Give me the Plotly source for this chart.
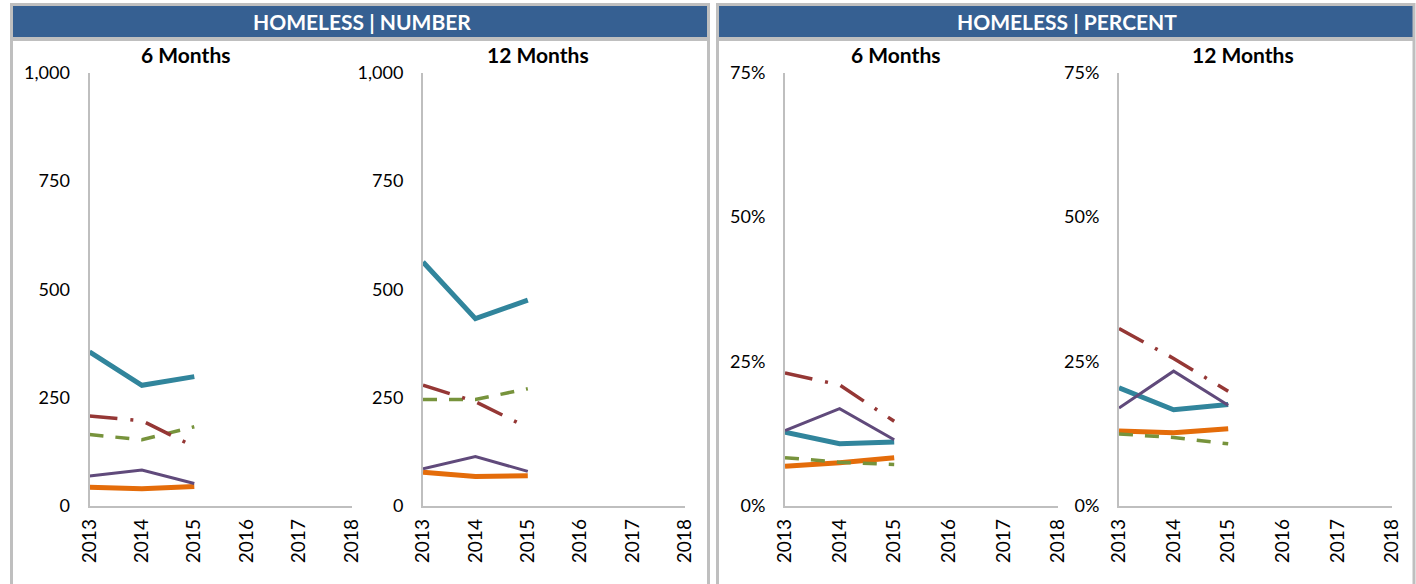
import plotly.graph_objects as go

W, H = 1416, 584

years = [2013, 2014, 2015]
all_years = [2013, 2014, 2015, 2016, 2017, 2018]

# Homeless | Number
num6_teal = [355, 278, 298]
num6_red = [207, 196, 136]
num6_green = [164, 152, 182]
num6_purple = [68, 82, 51]
num6_orange = [42, 39, 44]

num12_teal = [563, 432, 475]
num12_red = [278, 240, 180]
num12_green = [245, 245, 270]
num12_purple = [85, 113, 79]
num12_orange = [77, 67, 69]

# Homeless | Percent (in %)
pct6_teal = [12.7, 10.7, 11.0]
pct6_red = [23.0, 20.9, 14.6]
pct6_green = [8.3, 7.5, 7.1]
pct6_purple = [13.0, 16.8, 11.4]
pct6_orange = [6.8, 7.4, 8.3]

pct12_teal = [20.4, 16.6, 17.5]
pct12_red = [30.7, 25.5, 19.8]
pct12_green = [12.4, 11.8, 10.7]
pct12_purple = [16.9, 23.3, 17.4]
pct12_orange = [12.9, 12.6, 13.3]

num_ticks = [0, 250, 500, 750, 1000]
num_ticktext = ["0", "250", "500", "750", "1,000"]
pct_ticks = [0, 25, 50, 75]
pct_ticktext = ["0%", "25%", "50%", "75%"]

headers = ["HOMELESS | NUMBER", "HOMELESS | PERCENT"]
subtitles = ["6 Months", "12 Months", "6 Months", "12 Months"]

TEAL = "#31859C"
RED = "#953735"
GREEN = "#77933C"
PURPLE = "#604A7B"
ORANGE = "#E46C0A"
BLUE = "#366092"
GRAY = "#BFBFBF"
FONT = "Lato"


def px(x):
    return x / W


def py(y):
    return 1 - y / H


fig = go.Figure()

panels = [
    dict(x0=89.5, x1=351.5, data=[num6_teal, num6_orange, num6_green, num6_purple, num6_red],
         rng=[0, 1000], tv=num_ticks, tt=num_ticktext),
    dict(x0=423, x1=685, data=[num12_teal, num12_orange, num12_green, num12_purple, num12_red],
         rng=[0, 1000], tv=num_ticks, tt=num_ticktext),
    dict(x0=785, x1=1058, data=[pct6_teal, pct6_orange, pct6_green, pct6_purple, pct6_red],
         rng=[0, 75], tv=pct_ticks, tt=pct_ticktext),
    dict(x0=1119, x1=1392, data=[pct12_teal, pct12_orange, pct12_green, pct12_purple, pct12_red],
         rng=[0, 75], tv=pct_ticks, tt=pct_ticktext),
]

styles = [
    dict(color=TEAL, width=5, dash="solid"),
    dict(color=ORANGE, width=5, dash="solid"),
    dict(color=GREEN, width=3.5, dash="14px,12px"),
    dict(color=PURPLE, width=3, dash="solid"),
    dict(color=RED, width=3.5, dash="28px,13px,3px,13px"),
]

y_top, y_bot = 73, 505.5

for i, p in enumerate(panels):
    k = i + 1
    xa = "x" if k == 1 else f"x{k}"
    ya = "y" if k == 1 else f"y{k}"
    for vals, st in zip(p["data"], styles):
        fig.add_trace(go.Scatter(x=years, y=vals, mode="lines", xaxis=xa, yaxis=ya,
                                 line=st, showlegend=False, hoverinfo="skip"))
    xkey = "xaxis" if k == 1 else f"xaxis{k}"
    ykey = "yaxis" if k == 1 else f"yaxis{k}"
    fig.layout[xkey] = dict(
        domain=[px(p["x0"]), px(p["x1"])], range=[2013, 2018], anchor=ya,
        tickvals=all_years, ticktext=[str(y) for y in all_years], tickangle=-90,
        showline=True, linecolor=GRAY, linewidth=2, showgrid=False, zeroline=False,
        ticks="", ticklabelstandoff=4, tickfont=dict(family=FONT, size=19, color="#000000"),
        fixedrange=True, automargin=False,
    )
    fig.layout[ykey] = dict(
        domain=[py(y_bot), py(y_top)], range=p["rng"], anchor=xa,
        tickvals=p["tv"], ticktext=p["tt"],
        showline=True, linecolor=GRAY, linewidth=2, showgrid=False, zeroline=False,
        ticks="", ticklabelstandoff=14, tickfont=dict(family=FONT, size=18, color="#000000"),
        fixedrange=True, automargin=False,
    )

shapes = []
for (x0, x1) in [(10, 710), (716, 1415.5)]:
    shapes.append(dict(type="rect", xref="paper", yref="paper", x0=px(x0), x1=px(x1),
                       y0=py(600), y1=py(3), fillcolor=GRAY, line=dict(width=0), layer="below"))
    shapes.append(dict(type="rect", xref="paper", yref="paper", x0=px(x0 + 3), x1=px(x1 - 3),
                       y0=py(600), y1=py(41), fillcolor="white", line=dict(width=0), layer="below"))
    shapes.append(dict(type="rect", xref="paper", yref="paper", x0=px(x0 + 3), x1=px(x1 - 3),
                       y0=py(37), y1=py(6), fillcolor=BLUE, line=dict(width=0), layer="below"))

annotations = []
for txt, cx in zip(headers, [362, 1067]):
    annotations.append(dict(text=f"<b>{txt}</b>", x=px(cx), y=py(21.5), xref="paper", yref="paper",
                            showarrow=False, xanchor="center", yanchor="middle",
                            font=dict(family=FONT, size=21, color="white")))
for txt, cx in zip(subtitles, [185, 538, 895, 1243]):
    annotations.append(dict(text=f"<b>{txt}</b>", x=px(cx), y=py(55), xref="paper", yref="paper",
                            showarrow=False, xanchor="center", yanchor="middle",
                            font=dict(family=FONT, size=21, color="black")))

fig.update_layout(
    width=W, height=H, margin=dict(l=0, r=0, t=0, b=0, pad=0, autoexpand=False),
    paper_bgcolor="white", plot_bgcolor="rgba(0,0,0,0)",
    shapes=shapes, annotations=annotations, showlegend=False,
)

fig.write_html(
    "out.html",
    config={"displayModeBar": False},
    post_script="document.documentElement.style.margin='0';document.documentElement.style.padding='0';"
                "document.body.style.margin='0';document.body.style.padding='0';"
                "document.documentElement.style.overflow='hidden';document.body.style.overflow='hidden';",
)
